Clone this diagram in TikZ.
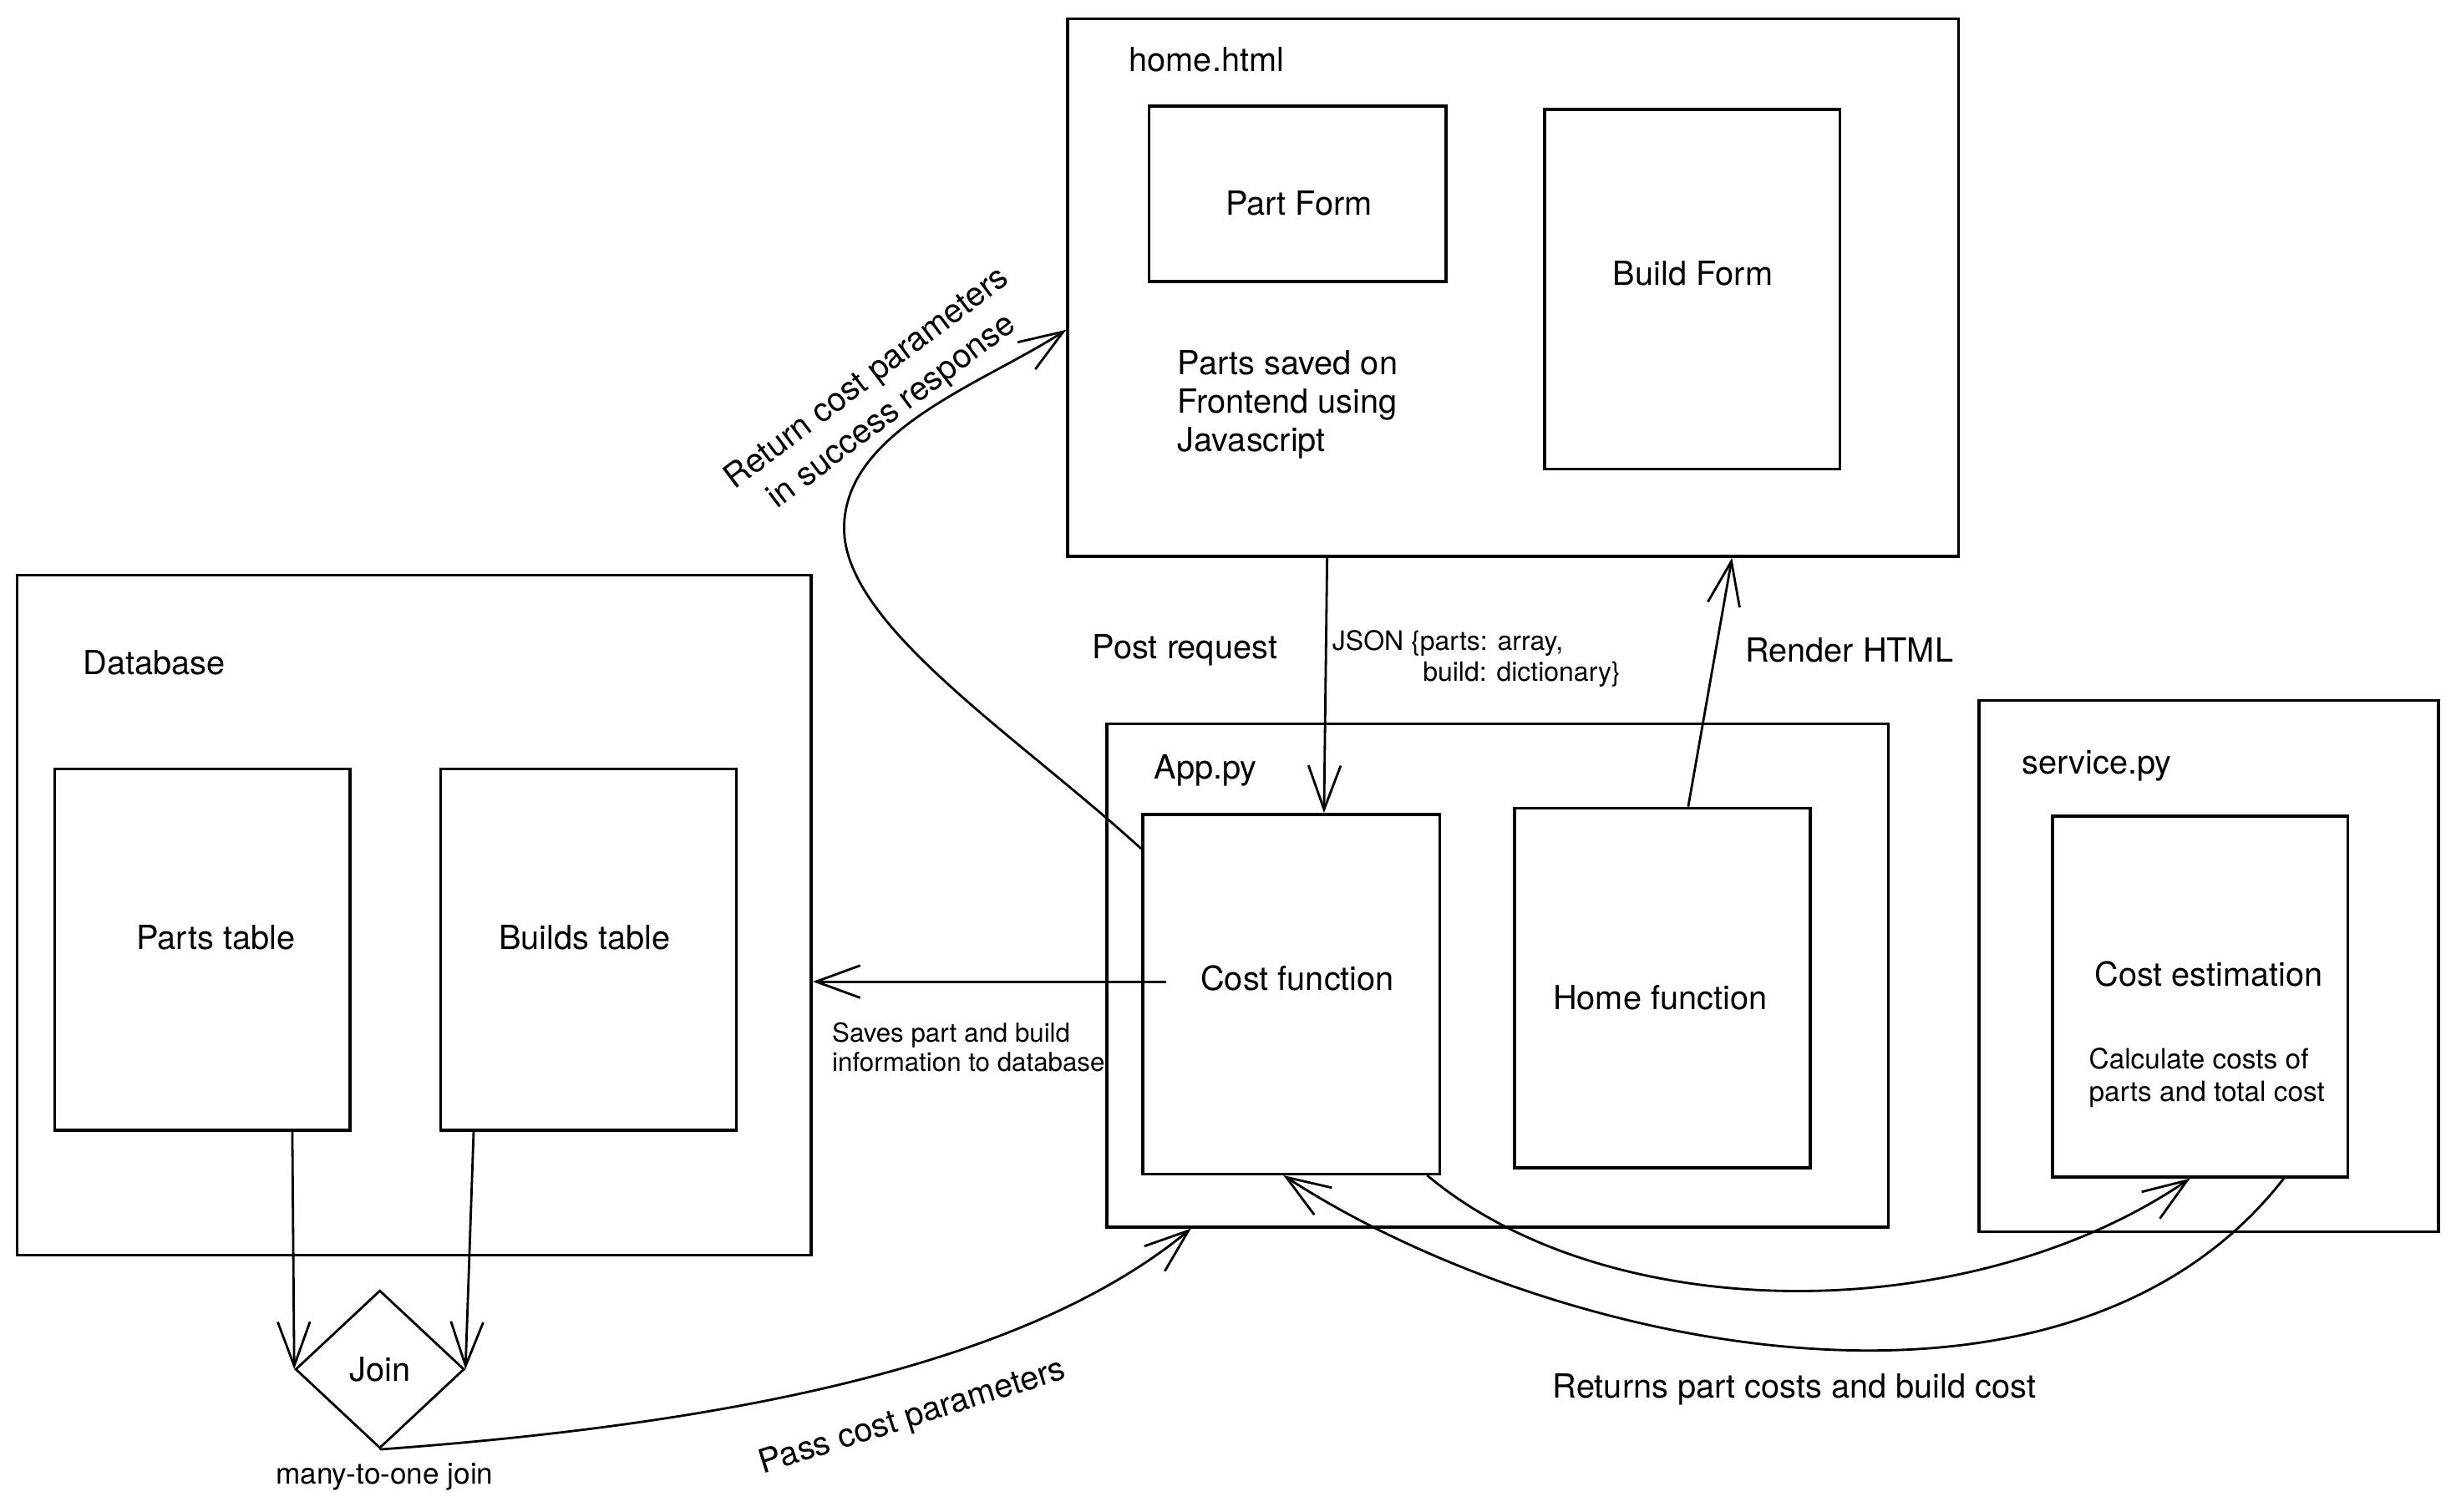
\documentclass[tikz,border=0pt]{standalone}
\usepackage{fontspec}
\setmainfont{TeX Gyre Heros}
\usetikzlibrary{arrows.meta,calc,fit,shapes.geometric}
\begin{document}
\begin{tikzpicture}[x=0.018712cm, y=-0.018712cm,
  box/.style={draw, line width=1pt, inner sep=0pt},
  lbl/.style={font=\fontsize{11.3}{13}\selectfont, inner sep=0pt},
  smalltxt/.style={inner sep=0pt, align=left},
  arr/.style={line width=0.8pt, -{Straight Barb[length=15pt,width=11pt,line width=0.8pt]}},
]
\useasboundingbox (0,0) rectangle (1568,967);
\fill[white] (0,0) rectangle (1568,967);

% boxes
\node[box, fit={(683,12) (1253,356)}] (home) {};
\node[box, fit={(735,68) (925,180)}] (partform) {};
\node[box, fit={(988,70) (1177,300)}] (buildform) {};
\node[box, fit={(11,368) (519,803)}] (db) {};
\node[box, fit={(35,492) (224,723)}] (partstbl) {};
\node[box, fit={(282,492) (471,723)}] (buildstbl) {};
\node[box, fit={(708,463) (1208,785)}] (app) {};
\node[box, fit={(731,521) (921,751)}] (costfn) {};
\node[box, fit={(969,517) (1158,747)}] (homefn) {};
\node[box, fit={(1266,448) (1560,788)}] (service) {};
\node[box, fit={(1313,522) (1502,753)}] (costest) {};
\node[draw, diamond, line width=0.8pt, minimum width=2.021cm, minimum height=1.89cm, inner sep=0pt, lbl] (join) at (243,876) {Join};

% texts
\node[lbl, anchor=west] (thome) at (722,38) {home.html};
\node[lbl] (tpart) at (831,130) {Part Form};
\node[lbl] (tbuild) at (1083,175) {Build Form};
\node[lbl, anchor=north west, align=left] (tsaved) at (753,224) {Parts saved on\\Frontend using\\Javascript};
\node[lbl, anchor=west] (tdb) at (53,424) {Database};
\node[lbl] (tparts) at (138,600) {Parts table};
\node[lbl] (tbuilds) at (374,600) {Builds table};
\node[lbl, anchor=west] (tapp) at (738,493) {App.py};
\node[lbl] (tcostfn) at (830,626) {Cost function};
\node[lbl] (thomefn) at (1062,638) {Home function};
\node[lbl, anchor=west] (tservice) at (1293,490) {service.py};
\node[lbl] (tcostest) at (1413,623) {Cost estimation};
\node[smalltxt, font=\fontsize{9.5}{11.1}\selectfont, anchor=north west] (tcalc) at (1336,670) {Calculate costs of\\parts and total cost};
\node[smalltxt, font=\fontsize{8.9}{10}\selectfont, anchor=north west] (tsaves) at (532,654) {Saves part and build\\information to database};
\node[smalltxt, font=\fontsize{9.1}{10.6}\selectfont, anchor=north west] (tjson) at (852,403) {JSON \{parts: array,\\\hspace*{30.8pt}build: dictionary\}};
\node[lbl] (tpost) at (758,416) {Post request};
\node[lbl] (trender) at (1183,416) {Render HTML};
\node[lbl] (treturns) at (1148,889) {Returns part costs and build cost};
\node[lbl, rotate=17.5] (tpass) at (584,907) {Pass cost parameters};
\node[lbl, rotate=37, align=center, font=\fontsize{11.3}{14}\selectfont] (treturn) at (563,253) {Return cost parameters\\in success response};
\node[inner sep=0pt, font=\fontsize{10}{12}\selectfont] (tmany) at (246,945) {many-to-one join};

% connectors
\draw[arr] (home.south -| 849,0) -- (costfn.north -| 847,0);
\draw[arr] (homefn.north -| 1080,0) -- (home.south -| 1108,0);
\draw[arr] ($(costfn.west |- 0,628)+(16,0)$) -- (db.east |- 0,628);
\draw[arr] (partstbl.south -| 187,0) -- (join.west);
\draw[arr] (buildstbl.south -| 303,0) -- (join.east);
\draw[arr] (costfn.west |- 0,543) .. controls (650,470) and (540,400) .. (540,338)
  .. controls (540,275) and (630,245) .. (home.west |- 0,211);
\draw[arr] (join.south) .. controls (480,910) and (660,870) .. (app.south -| 762,0);
\draw[arr] (costfn.south -| 913,0) .. controls (1030,850) and (1260,850) .. (costest.south -| 1401,0);
\draw[arr] (costest.south -| 1461,0) .. controls (1320,935) and (990,862) .. (costfn.south -| 821,0);
\end{tikzpicture}
\end{document}
